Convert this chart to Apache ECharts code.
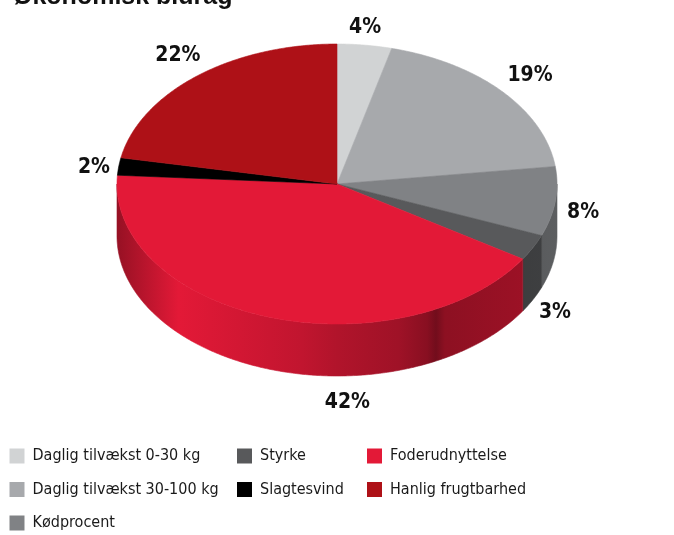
<!DOCTYPE html>
<html><head><meta charset="utf-8">
<script src="https://cdn.jsdelivr.net/npm/echarts@6/dist/echarts.min.js"></script>
<style>html,body{margin:0;padding:0;background:#fff}#c{width:674px;height:535px}</style>
</head><body><div id="c"></div>
<script>
// ---- data ----
const categories = ['Daglig tilvækst 0-30 kg', 'Daglig tilvækst 30-100 kg', 'Kødprocent', 'Styrke', 'Foderudnyttelse', 'Slagtesvind', 'Hanlig frugtbarhed'];
const values = [4, 19, 8, 3, 42, 2, 22];
const titleText = 'Økonomisk bidrag';

// ---- styles / layout ----
const colors = ['#d1d3d4', '#a7a9ac', '#808285', '#58595b', '#e31937', '#000000', '#ae1117'];
const legendCols = [[0, 1, 2], [3, 5], [4, 6]];
const legendLeft = [9.5, 237, 367];
const CX = 337, CY = 184, RX = 220, RY = 140, DEPTH = 52;
const labelNudge = [[-3, 2], [7, -3], [0, -44], [-3, 4], [87, 14], [3, 4], [-1, -5]];
const shadeStops = [[0, 0.66], [0.14, 1], [0.42, 0.85], [0.5, 0.78], [0.64, 0.7], [0.705, 0.6], [0.725, 0.5], [0.745, 0.62], [0.9, 0.68], [1, 0.72]];
const NARROW = '"Liberation Sans Narrow", "DejaVu Sans Condensed", sans-serif';

const total = values.reduce((a, b) => a + b, 0);
const cum = []; let acc = 0; values.forEach(v => { cum.push(acc); acc += v; });

function shade(hex, f) {
  const n = parseInt(hex.slice(1), 16);
  const r = Math.round(((n >> 16) & 255) * f), g = Math.round(((n >> 8) & 255) * f), b = Math.round((n & 255) * f);
  return 'rgb(' + r + ',' + g + ',' + b + ')';
}
function pt(t, dy) { return [CX + RX * Math.sin(t), CY - RY * Math.cos(t) + (dy || 0)]; }

function makeSeries(i) {
  return {
    type: 'custom', name: categories[i], coordinateSystem: 'none',
    itemStyle: { color: colors[i] },
    data: [values[i]],
    silent: true,
    renderItem: function (params, api) {
      const v = api.value(0);
      const a0 = cum[i] / total * 2 * Math.PI, a1 = (cum[i] + v) / total * 2 * Math.PI;
      const children = [];
      const n = Math.max(2, Math.ceil((a1 - a0) / (Math.PI / 360)));
      const top = [[CX, CY]];
      for (let k = 0; k <= n; k++) top.push(pt(a0 + (a1 - a0) * k / n));
      children.push({ type: 'polygon', z2: 5, shape: { points: top }, style: { fill: colors[i], stroke: colors[i], lineWidth: 0.6 } });
      const s0 = Math.max(a0, Math.PI / 2), s1 = Math.min(a1, 1.5 * Math.PI);
      if (s1 > s0) {
        const m = Math.max(2, Math.ceil((s1 - s0) / (Math.PI / 360)));
        const up = [], lo = [];
        for (let k = 0; k <= m; k++) { const t = s0 + (s1 - s0) * k / m; up.push(pt(t)); lo.push(pt(t, DEPTH)); }
        const pts = up.concat(lo.reverse());
        const grad = new echarts.graphic.LinearGradient(CX - RX, 0, CX + RX, 0,
          shadeStops.map(s => ({ offset: s[0], color: shade(colors[i], s[1]) })), true);
        children.push({ type: 'polygon', z2: 1, shape: { points: pts }, style: { fill: grad, stroke: grad, lineWidth: 0.6 } });
      }
      const mid = (a0 + a1) / 2;
      const c = Math.cos(mid);
      const lx = CX + (RX + 28) * Math.sin(mid) + labelNudge[i][0];
      const ly = CY - (RY + 20) * c + (c < 0 ? DEPTH : 0) + labelNudge[i][1];
      children.push({ type: 'text', z2: 10, style: { text: Math.round(v / total * 100) + '%', x: lx, y: ly, align: 'center', verticalAlign: 'middle', fontFamily: NARROW, fontWeight: 'bold', fontSize: 21, fill: '#111' } });
      return { type: 'group', children: children };
    }
  };
}

const chart = echarts.init(document.getElementById('c'), null, { renderer: 'canvas' });
chart.setOption({
  animation: false,
  graphic: [{ type: 'text', x: 13, y: -3, style: { text: titleText, fontFamily: '"Liberation Sans", Arial, sans-serif', fontWeight: 'bold', fontSize: 25, fill: '#111', verticalAlign: 'middle' } }],
  legend: legendCols.map((col, j) => ({
    orient: 'vertical', left: legendLeft[j], top: 448, padding: 0, itemWidth: 15, itemHeight: 15, itemGap: 17.5,
    icon: 'rect', selectedMode: false, data: col.map(k => categories[k]),
    textStyle: { fontFamily: NARROW, fontSize: 16, lineHeight: 15, color: '#1a1a1a', padding: [0, 0, 0, 3] }
  })),
  series: values.map((_, i) => makeSeries(i))
});
</script></body></html>
